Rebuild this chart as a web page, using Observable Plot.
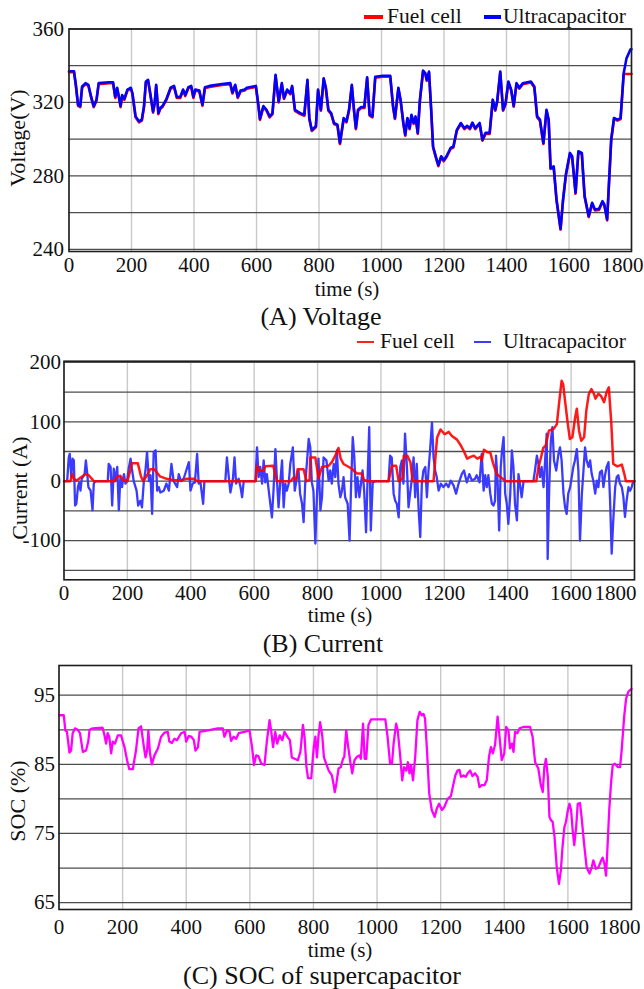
<!DOCTYPE html>
<html><head><meta charset="utf-8">
<script src="https://cdn.jsdelivr.net/npm/d3@7"></script>
<script src="https://cdn.jsdelivr.net/npm/@observablehq/plot@0.6"></script>
<style>
body{margin:0;background:#fff;}
#root{position:relative;width:644px;height:989px;font-family:"Liberation Serif","Times New Roman",serif;color:#111;overflow:hidden;}
.panel{position:absolute;left:0;}
.lbl{position:absolute;transform:translate(-50%,-50%);font-size:21px;white-space:nowrap;line-height:1;}
.cap{font-size:26px;}
.ylab{position:absolute;transform:translate(-50%,-50%) rotate(-90deg);font-size:22px;white-space:nowrap;line-height:1;}
.leg{position:absolute;font-size:21.5px;line-height:1;transform:translateY(-50%);white-space:nowrap;}
.sw{position:absolute;transform:translateY(-50%);}
</style>
</head><body><div id="root"></div>
<script>
// ---------- data ----------
const xTicks = [0, 200, 400, 600, 800, 1000, 1200, 1400, 1600, 1800];

// (A) Voltage
const voltTime = [0,16,22,29,36,42,53,62,71,79,88,95,128,141,148,154,161,165,170,177,187,198,203,213,224,233,240,246,253,260,269,274,279,286,292,299,312,325,336,345,356,365,372,382,391,398,404,417,427,435,450,490,516,523,532,540,549,562,569,598,606,611,622,632,642,651,661,671,681,688,698,708,714,723,740,753,763,769,777,790,797,806,815,822,830,839,848,859,867,879,888,896,905,912,918,925,935,945,954,962,971,980,1004,1028,1037,1043,1054,1061,1070,1076,1083,1090,1096,1103,1109,1116,1123,1133,1140,1145,1152,1159,1165,1175,1182,1191,1199,1208,1221,1230,1241,1254,1265,1274,1283,1291,1300,1314,1323,1333,1346,1356,1364,1370,1380,1389,1397,1406,1415,1423,1432,1441,1452,1478,1489,1498,1507,1518,1528,1535,1541,1551,1560,1573,1581,1590,1603,1610,1621,1630,1641,1650,1663,1674,1683,1696,1707,1713,1722,1735,1744,1755,1765,1775,1784,1797,1800];
const voltUC = [337,337,329.6,318.7,318,328.7,330.5,329.6,323,318,321.5,330.5,331,331,323,328,322,318,324,322,327,328,325,312.4,309.7,310.6,318,331.4,332.3,325,315,319.6,329.6,314.2,317,318,322,328,329,323,323,327,324,328.3,329,323,327,326.5,318.7,328.3,329,330,330.5,325.4,329.6,323,326.5,327,328,329,318.7,311,318,316,312.4,314,335,320.5,330.5,322.4,327,325,329,316,314.2,313.3,332.3,311.5,305,307,327,316,333.2,328,316,314.2,308.8,307.9,297.9,311.5,309.7,316,329.6,316,306,316,317.5,317.5,333.7,313.3,312.4,334,334.5,334.5,318,311.5,328,321.5,308.8,302.4,311.5,306,313.3,308.8,312.4,303.4,321.5,337.4,336,332.3,336.8,316,296,289.8,285.8,290.7,288.5,290.7,295.2,296,305,308.8,306,307.3,306,309,306,308.8,299.7,303.4,303.4,321.5,316,320.5,336.8,316,319.6,331.4,327,318.2,330.5,328,330.5,331.4,328.7,312.4,310.6,297.9,316,310.6,284.3,285.2,267.2,251.2,267.2,280.7,292.5,290.7,270.8,293.4,292.5,269,258.1,265.3,261.7,262,266.2,264.4,256.3,299.7,311.5,310.6,311.5,335.9,344,349,349];
// fuel-cell voltage follows the bus until 1775 s, then holds
const fcVoltTailTime = [1775, 1800];
const fcVoltTail = [336, 336];
const voltTicks = [240, 280, 320, 360];
const voltGrid = [240, 260, 280, 300, 320, 340, 360];

// (B) Current
const fcCurTime = [0,20,26,31,40,55,68,78,88,94,160,168,178,186,200,210,214,233,243,250,262,272,285,303,324,345,370,385,410,420,605,609,615,630,635,660,672,715,724,732,737,756,765,775,777,793,803,814,835,845,856,866,873,882,892,908,924,940,946,960,1024,1035,1048,1056,1068,1072,1083,1093,1100,1166,1177,1188,1201,1214,1224,1240,1251,1262,1272,1283,1293,1304,1314,1318,1325,1335,1345,1354,1365,1380,1395,1490,1497,1505,1512,1520,1530,1545,1555,1563,1570,1575,1582,1589,1596,1604,1612,1618,1625,1632,1641,1648,1656,1664,1672,1677,1686,1694,1704,1712,1719,1727,1733,1746,1760,1768,1773,1800];
const fcCurrent = [0,0,12,4,1,7,12,10,4,0,0,8,9,2,0,20,30,30,8,0,10,20,20,8,4,2,1,4,4,0,0,26,18,18,25,26,0,0,6,2,20,20,0,2,40,40,5,24,26,32,43,56,38,29,26,21,13,13,2,0,0,26,26,0,5,43,43,32,0,0,73,87,79,83,76,70,61,50,38,41,43,38,41,35,53,49,48,30,12,6,0,0,23,40,56,60,85,88,96,136,169,163,130,99,71,74,105,122,85,68,74,119,147,155,147,139,147,144,133,150,158,96,29,25,28,12,0,0];
const ucCurTime = [0,10,15,18,23,27,31,35,39,44,48,52,56,65,69,73,77,84,90,94,99,138,141,147,152,157,162,168,173,178,183,189,194,199,204,210,215,220,229,234,241,246,252,257,262,268,273,278,283,289,294,299,304,315,323,331,339,346,357,362,369,378,394,399,406,413,420,425,430,439,443,509,514,520,525,533,538,543,551,557,562,567,604,609,614,619,625,630,635,640,646,651,656,661,667,672,677,682,688,693,698,703,709,714,722,728,735,740,745,751,756,761,767,772,777,782,787,793,798,803,809,814,819,828,835,840,845,851,856,861,866,872,877,882,887,895,901,906,911,916,921,926,932,937,942,947,953,958,963,968,974,982,1024,1029,1034,1040,1045,1050,1056,1061,1066,1071,1076,1082,1087,1092,1098,1103,1108,1113,1119,1124,1129,1134,1140,1145,1150,1155,1161,1166,1171,1176,1182,1189,1197,1206,1213,1220,1229,1237,1245,1255,1262,1271,1279,1287,1297,1302,1311,1318,1324,1329,1334,1339,1345,1350,1355,1360,1363,1368,1373,1378,1382,1387,1392,1397,1402,1408,1413,1418,1423,1429,1434,1439,1444,1450,1481,1486,1492,1497,1502,1507,1513,1518,1523,1526,1531,1536,1541,1546,1553,1560,1565,1570,1576,1581,1586,1591,1597,1602,1607,1612,1618,1623,1628,1634,1639,1644,1649,1655,1660,1665,1670,1676,1681,1686,1691,1697,1702,1707,1712,1718,1723,1728,1733,1739,1744,1749,1754,1760,1765,1770,1775,1781,1786,1791,1796,1800];
const ucCurrent = [0,0,40,46,7,38,35,-41,-38,-10,-2,-16,4,12,35,15,-10,-16,-49,-4,0,0,29,24,-41,21,0,24,-49,7,-10,12,-4,0,21,38,18,0,-16,-41,-33,-44,0,18,49,0,10,-55,49,52,-16,-10,-19,-16,-4,-16,29,0,-10,12,0,5,32,-16,-4,-2,46,-4,0,-38,0,0,40,7,-19,4,40,-4,4,-10,-27,0,0,57,7,24,-4,35,-2,12,-16,-38,-61,-16,54,1,-44,-4,35,-44,-4,-16,-4,29,57,-16,7,18,-21,-38,-69,-4,35,71,57,-2,-16,-105,-27,38,-49,-27,40,35,1,18,-4,29,7,52,-4,-27,-16,7,-27,-38,-100,-4,74,40,-27,7,-27,-4,18,-16,-86,7,91,-83,-2,0,0,43,40,-21,-33,-38,-61,24,35,-4,80,24,-44,-21,7,40,-27,29,-49,-94,-4,18,24,-27,18,52,99,40,18,7,-16,-4,-10,-4,-10,1,-7,-21,-4,12,18,-2,12,1,4,10,-2,46,-16,10,-10,10,-21,-38,-41,-33,43,1,-83,24,52,74,-21,-38,-72,-21,52,24,-38,-66,12,-7,-27,0,0,18,43,29,7,24,-10,35,80,-131,-10,68,91,35,18,46,57,35,-21,-44,-55,-21,-10,7,24,35,54,18,-100,-21,18,57,35,24,35,12,1,-21,1,-10,15,18,-10,10,24,32,-33,-122,-66,-10,7,10,-4,-10,-27,-60,-33,-10,-16,-10,0,0];
const curTicks = [-100, 0, 100, 200];
const curGrid = [-150, -100, -50, 0, 50, 100, 150, 200];

// (C) SOC
const socTime = [0,15,20,25,33,38,43,50,59,66,75,85,92,96,106,137,143,148,153,158,164,169,176,185,195,206,214,221,232,242,250,258,267,272,277,281,286,292,300,311,321,332,342,347,355,363,371,384,395,400,408,416,424,429,437,442,468,499,515,520,528,536,541,549,557,565,583,599,607,613,620,627,636,646,654,662,667,673,680,686,694,702,709,718,726,732,741,751,759,767,772,778,783,793,801,806,811,816,821,828,833,840,848,858,863,867,872,879,886,893,897,903,908,916,922,929,937,944,949,956,961,966,973,981,1026,1033,1041,1047,1052,1060,1065,1073,1079,1085,1092,1097,1102,1107,1113,1120,1127,1134,1141,1146,1151,1157,1164,1172,1181,1188,1195,1204,1211,1222,1232,1238,1246,1253,1259,1264,1272,1279,1285,1293,1300,1308,1316,1322,1329,1338,1345,1352,1358,1364,1371,1379,1385,1392,1400,1406,1413,1418,1424,1429,1434,1441,1448,1460,1481,1489,1497,1507,1515,1521,1526,1531,1537,1542,1547,1552,1558,1565,1572,1578,1583,1589,1594,1600,1605,1610,1615,1620,1626,1631,1638,1643,1651,1659,1668,1675,1680,1688,1696,1703,1709,1715,1720,1725,1730,1736,1741,1748,1757,1764,1769,1777,1783,1790,1797,1800];
const socValue = [92.1,92.1,89.9,89.7,86.7,87,89.5,90.2,90,89.5,86.8,87,88.3,90,90.2,90.3,89.2,88,89.5,89,86.6,88.3,88,89.2,89.2,87.5,85.6,84.3,84.3,87,90.2,90.5,87.5,86,87,89.9,86.6,85,86.3,87.3,89,89.6,89.7,88.3,88.1,88.7,88.5,89.5,89.7,88.3,89.1,89,88.5,87,87.5,89.7,89.9,90.2,90.2,89,89.9,89.8,88.4,89,88.7,89.5,89.7,89.9,87.5,84.9,86.3,86.2,85.1,84.9,88.5,91.4,89.9,87.5,89.7,88,89.2,88.5,89.7,89,88.5,86,85.8,85.6,86.8,90.7,89,84.6,83,83,87.5,89,86,89.2,91.1,89,86,85.1,84.1,83.4,82.2,81,82.2,84.4,84.6,85.8,86.1,89.9,88,85.3,83.7,85.6,86.1,86.3,85.8,90.9,85.8,85.8,90.7,91.5,91.5,89,85.1,85.1,88,90.9,89.9,86.1,82.7,84.6,84.1,85.3,83.7,84.9,82.7,86.1,91.4,92.6,92.1,92.3,91.6,87,80.8,78.4,77.4,78.6,79.3,78.4,78.8,80,80.4,81.7,83.4,84.1,84.2,83.2,83.4,83.2,83.7,84.1,83.3,83.7,83.2,81.7,82,82,82.7,86.1,87.5,86.6,87.8,91.9,89,85.6,86.6,90.4,89.9,87.3,88,86.8,89.7,89.5,90.2,90.4,90.4,89,85.3,84.4,82,81,84.6,85.8,83.2,77.4,76.9,76.7,74.5,70.1,67.7,69.7,73,75.9,76.7,78.4,79.3,78.4,75.5,73.3,75.9,79.3,79.4,77.4,73.5,70.1,69.2,70.1,71.1,69.9,70.1,70.9,71.5,70.6,68.9,73.5,78.4,82.5,84.9,85.1,84.6,84.6,87,91.9,94.5,95.5,95.8,95.9];
const socTicks = [65, 75, 85, 95];
const socGrid = [65, 70, 75, 80, 85, 90, 95];

// ---------- helpers ----------
const zip = (ts, vs) => ts.map((t, i) => ({t, v: vs[i]}));
const root = document.getElementById("root");
const FONT = '"Liberation Serif","Times New Roman",serif';

function makePanel({top, height, mt, mb, ml, mr, yDomain, yTicks, yGrid, xPad, yPad, lastShift, marks}) {
  const svg = Plot.plot({
    width: 644, height,
    marginTop: mt, marginBottom: mb, marginLeft: ml, marginRight: mr,
    style: {fontFamily: FONT, fontSize: "21px", color: "#111", background: "transparent", overflow: "visible"},
    x: {domain: [0, 1800], ticks: xTicks, tickSize: 0, tickPadding: xPad, label: null, tickFormat: d => String(d)},
    y: {domain: yDomain, ticks: yTicks, tickSize: 0, tickPadding: yPad, label: null, tickFormat: d => String(d)},
    marks: [
      Plot.ruleX(xTicks, {stroke: "#c9c9c9", strokeWidth: 1.4}),
      Plot.ruleY(yGrid, {stroke: "#4d4d4d", strokeWidth: 1.3}),
      ...marks,
      Plot.frame({stroke: "#1e1e1e", strokeWidth: 1.6})
    ]
  });
  svg.classList.add("panel");
  svg.style.top = top + "px";
  // the last x tick label sits left of its gridline, as in the original figure
  svg.querySelectorAll("text").forEach(t => {
    if (t.textContent === String(xTicks[xTicks.length - 1])) t.setAttribute("dx", lastShift);
  });
  root.appendChild(svg);
}

function addText(cls, text, x, y) {
  const d = document.createElement("div");
  d.className = cls;
  d.textContent = text;
  d.style.left = x + "px";
  d.style.top = y + "px";
  root.appendChild(d);
}
function addSwatch(color, x, y, w, h) {
  const d = document.createElement("div");
  d.className = "sw";
  d.style.left = x + "px"; d.style.top = y + "px";
  d.style.width = w + "px"; d.style.height = h + "px";
  d.style.background = color;
  root.appendChild(d);
}

// ---------- (A) Voltage ----------
const ucVolt = zip(voltTime, voltUC);
const fcVolt = ucVolt.filter(d => d.t <= fcVoltTailTime[0]).concat(zip(fcVoltTailTime, fcVoltTail));
makePanel({
  top: 0, height: 300, mt: 28.5, mb: 49, ml: 68.5, mr: 13,
  yDomain: [238.8, 360], yTicks: voltTicks, yGrid: voltGrid, xPad: 6, yPad: 5, lastShift: -9,
  marks: [
    Plot.line(fcVolt, {x: "t", y: "v", stroke: "#ff0000", strokeWidth: 2.6, dy: 1}),
    Plot.line(ucVolt, {x: "t", y: "v", stroke: "#0000ff", strokeWidth: 2.6})
  ]
});
addSwatch("#ff0000", 364, 16.7, 19, 4);
addText("leg", "Fuel cell", 387, 16.7);
addSwatch("#0000ff", 484, 16.7, 17, 4);
addText("leg", "Ultracapacitor", 503, 16.7);
addText("lbl", "time (s)", 347, 288.5);
addText("lbl cap", "(A) Voltage", 321, 317);
addText("ylab", "Voltage(V)", 18, 138);

// ---------- (B) Current ----------
makePanel({
  top: 350, height: 280, mt: 10.7, mb: 50.7, ml: 63.5, mr: 10,
  yDomain: [-166, 202], yTicks: curTicks, yGrid: curGrid, xPad: 5, yPad: 3, lastShift: -19,
  marks: [
    Plot.line(zip(ucCurTime, ucCurrent), {x: "t", y: "v", stroke: "#3b3bff", strokeWidth: 2.3}),
    Plot.line(zip(fcCurTime, fcCurrent), {x: "t", y: "v", stroke: "#ff0000", strokeWidth: 2.5, strokeOpacity: 0.9})
  ]
});
addSwatch("#ff2020", 357, 342, 17, 2);
addText("leg", "Fuel cell", 380, 342);
addSwatch("#3b3bff", 474, 342, 17, 2);
addText("leg", "Ultracapacitor", 503, 342);
addText("lbl", "time (s)", 340, 615);
addText("lbl cap", "(B) Current", 323, 644);
addText("ylab", "Current (A)", 20, 488);

// ---------- (C) SOC ----------
makePanel({
  top: 655, height: 300, mt: 10, mb: 46, ml: 58.5, mr: 13,
  yDomain: [64, 99.3], yTicks: socTicks, yGrid: socGrid, xPad: 10, yPad: 4, lastShift: -12,
  marks: [
    Plot.line(zip(socTime, socValue), {x: "t", y: "v", stroke: "#ff00ff", strokeWidth: 2.3})
  ]
});
addText("lbl", "time (s)", 340, 950);
addText("lbl cap", "(C) SOC of supercapacitor", 322, 976);
addText("ylab", "SOC (%)", 18, 801);
</script>
</body></html>
